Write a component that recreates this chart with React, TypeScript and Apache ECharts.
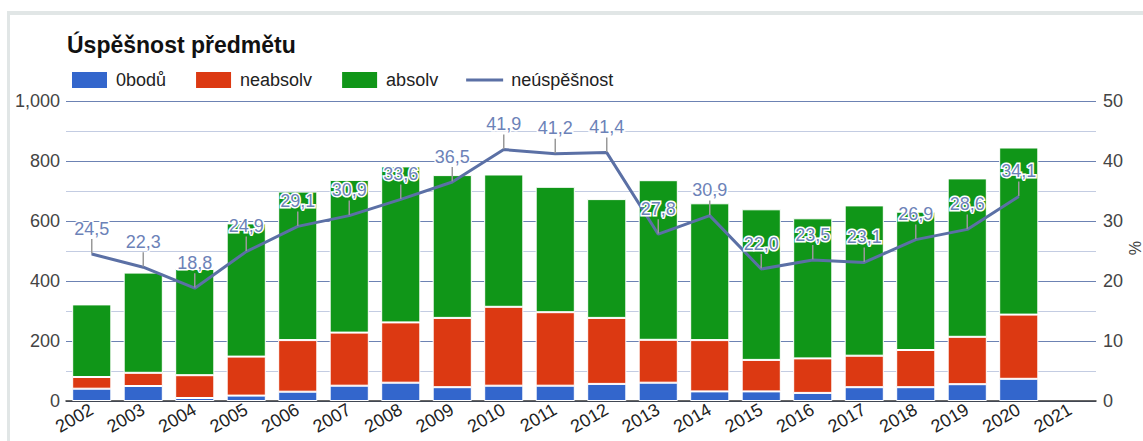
import React, { useEffect, useRef } from "react";
import * as echarts from "echarts";

const years = ["2002","2003","2004","2005","2006","2007","2008","2009","2010","2011","2012","2013","2014","2015","2016","2017","2018","2019","2020","2021"];
const zeroPoints = [41, 50, 10, 18, 31, 51, 61, 46, 51, 51, 57, 61, 32, 32, 27, 46, 46, 56, 74, null];
const notPassed = [39, 44, 76, 130, 172, 177, 201, 231, 263, 245, 220, 143, 171, 105, 115, 105, 124, 158, 214, null];
const passed = [242, 334, 354, 444, 495, 509, 520, 476, 441, 418, 396, 532, 456, 502, 467, 501, 461, 528, 557, null];
const failureRate = [24.5, 22.3, 18.8, 24.9, 29.1, 30.9, 33.6, 36.5, 41.9, 41.2, 41.4, 27.8, 30.9, 22.0, 23.5, 23.1, 26.9, 28.6, 34.1, null];
const rightAxisTitle = "%";

const FONT = "'Liberation Sans', Arial, sans-serif";

export default function App() {
  const ref = useRef<HTMLDivElement>(null);
  useEffect(() => {
    if (!ref.current) return;
    const chart = echarts.init(ref.current, undefined, { renderer: "svg" });
    const barStyle = (color: string) => ({ color, borderColor: "#ffffff", borderWidth: 1 });
    chart.setOption({
      animation: false,
      backgroundColor: "#ffffff",
      textStyle: { fontFamily: FONT },
      title: {
        text: "Úspěšnost předmětu",
        left: 62,
        top: 28,
        textStyle: { fontFamily: FONT, fontSize: 23, fontWeight: "bold", color: "#111" },
      },
      legend: {
        left: 65,
        top: 65,
        itemWidth: 37,
        itemHeight: 18,
        itemGap: 28,
        textStyle: { fontFamily: FONT, fontSize: 18, color: "#222", padding: [0, 0, 0, 3] },
        data: [
          { name: "0bodů", icon: "rect" },
          { name: "neabsolv", icon: "rect" },
          { name: "absolv", icon: "rect" },
          { name: "neúspěšnost", icon: "path://M0,0L37,0L37,3L0,3Z" },
        ],
      },
      graphic: [
        { type: "rect", shape: { x: 8, y: 11, width: 1135, height: 4 }, style: { fill: "#e1e6e6" }, silent: true },
        { type: "rect", shape: { x: 7, y: 11, width: 3, height: 430 }, style: { fill: "#e1e6e6" }, silent: true },
        {
          type: "text",
          x: 1134,
          y: 248,
          rotation: -Math.PI / 2,
          style: {
            text: rightAxisTitle,
            fontSize: 16,
            fontFamily: FONT,
            fill: "#444",
            align: "center",
            verticalAlign: "middle",
          },
          silent: true,
        },
      ],
      grid: { left: 66, right: 47, top: 101, bottom: 40, containLabel: false, outerBoundsMode: "none" },
      xAxis: {
        type: "category",
        data: years,
        axisTick: { show: false },
        axisLine: { lineStyle: { color: "#333", width: 1.5 } },
        axisLabel: { rotate: 30, fontSize: 18, color: "#222", margin: 7, interval: 0, fontFamily: FONT },
      },
      yAxis: [
        {
          type: "value",
          min: 0,
          max: 1000,
          interval: 200,
          axisLine: { show: false },
          axisTick: { show: false },
          axisLabel: {
            fontSize: 18,
            color: "#444",
            margin: 6,
            fontFamily: FONT,
            formatter: (v: number) => v.toLocaleString("en-US"),
          },
          splitLine: { lineStyle: { color: "#6c82b3", width: 1.2 } },
          minorTick: { show: false, splitNumber: 2 },
          minorSplitLine: { show: true, lineStyle: { color: "#c3cce2", width: 1 } },
        },
        {
          type: "value",
          min: 0,
          max: 50,
          interval: 10,
          axisLine: { show: false },
          axisTick: { show: false },
          axisLabel: { fontSize: 18, color: "#444", margin: 7, fontFamily: FONT },
          splitLine: { show: false },
        },
      ],
      series: [
        { name: "0bodů", type: "bar", stack: "total", data: zeroPoints, barCategoryGap: "24%", itemStyle: barStyle("#3366cc") },
        { name: "neabsolv", type: "bar", stack: "total", data: notPassed, itemStyle: barStyle("#dc3912") },
        { name: "absolv", type: "bar", stack: "total", data: passed, itemStyle: barStyle("#109618") },
        {
          name: "neúspěšnost",
          type: "line",
          yAxisIndex: 1,
          data: failureRate,
          symbol: "circle",
          symbolSize: 1,
          showSymbol: true,
          color: "#5b70a5",
          lineStyle: { color: "#5b70a5", width: 3 },
          itemStyle: { color: "#5b70a5" },
          z: 5,
          label: {
            show: true,
            position: "top",
            distance: 5,
            fontSize: 18,
            fontFamily: FONT,
            color: "#6c82b8",
            textBorderColor: "#ffffff",
            textBorderWidth: 3,
            formatter: (p: any) => (p.value == null ? "" : Number(p.value).toFixed(1).replace(".", ",")),
          },
          labelLayout: { dy: -11 },
          labelLine: { show: true, lineStyle: { color: "#999999", width: 1.5 } },
        },
      ],
    });
    return () => chart.dispose();
  }, []);
  return <div ref={ref} style={{ position: "absolute", left: 0, top: 0, width: 1143, height: 441 }} />;
}
